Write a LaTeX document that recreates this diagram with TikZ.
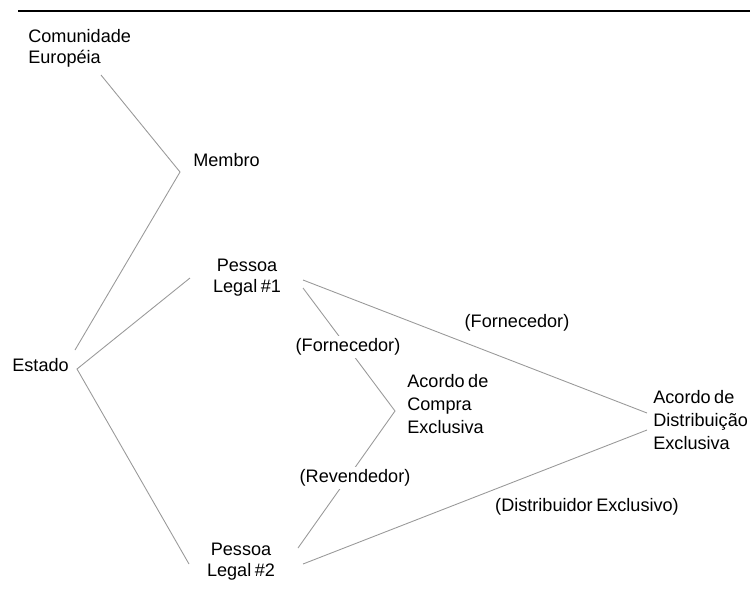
\documentclass[tikz,border=0pt]{standalone}
\usepackage{fontspec}
\setmainfont[WordSpace=0.7]{Liberation Sans}
\begin{document}
\begin{tikzpicture}[x=0.02cm, y=-0.02cm,
		lbl/.style={font=\fontsize{10.3}{11.8}\selectfont, inner sep=0pt},
		role/.style={lbl, fill=white, inner sep=1.5pt},
		link/.style={gray!80, line width=0.5pt}]
		\useasboundingbox (0,0) rectangle (754,592);
		\draw [line width=1pt] (18,11) -- (750,11);
		
		\node [lbl, anchor=west, align=left] (ce) at (28,48) {Comunidade\\Européia};
		\node [lbl, anchor=west] (mb) at (193,160) {Membro};
		\node [lbl, anchor=west] (es) at (12,365) {Estado};
		\node [lbl, align=center] (p1) at (247,278) {Pessoa\\Legal \#1};
		\node [lbl, align=center] (p2) at (241,562) {Pessoa\\Legal \#2};
		\node [lbl, anchor=west, align=left, font=\fontsize{10.3}{13}\selectfont] (ac) at (407,404) {Acordo de\\Compra\\Exclusiva};
		\node [lbl, anchor=west, align=left, font=\fontsize{10.3}{13}\selectfont] (ad) at (653,420) {Acordo de\\Distribuição\\Exclusiva};
		
		% pontos de juncao
		\coordinate (ceV) at (101,75);
		\coordinate (mbV) at (180,172);
		\coordinate (esN) at (75,350);
		\coordinate (esV) at (77,369);
		\coordinate (p1W) at (190,278);
		\coordinate (p1E) at (303,280);
		\coordinate (p1S) at (303,288);
		\coordinate (acV) at (395,411);
		\coordinate (p2W) at (189,564);
		\coordinate (p2N) at (298,548);
		\coordinate (p2E) at (303,564);
		\coordinate (adN) at (647,413);
		\coordinate (adS) at (647,430);
		
		\draw [link] (ceV) -- (mbV) -- (esN);
		\draw [link] (p1W) -- (esV) -- (p2W);
		\draw [link] (p1E) -- (adN);
		\draw [link] (p2E) -- (adS);
		\draw [link] (p1S) -- (acV) -- (p2N);
		
		\node [role] (fo2) at (348,347) {(Fornecedor)};
		\node [role] (rv) at (355,478) {(Revendedor)};
		\node [lbl] (fo1) at (517,323) {(Fornecedor)};
		\node [lbl] (di) at (587,507) {(Distribuidor Exclusivo)};
		
		\end{tikzpicture}
\end{document}
